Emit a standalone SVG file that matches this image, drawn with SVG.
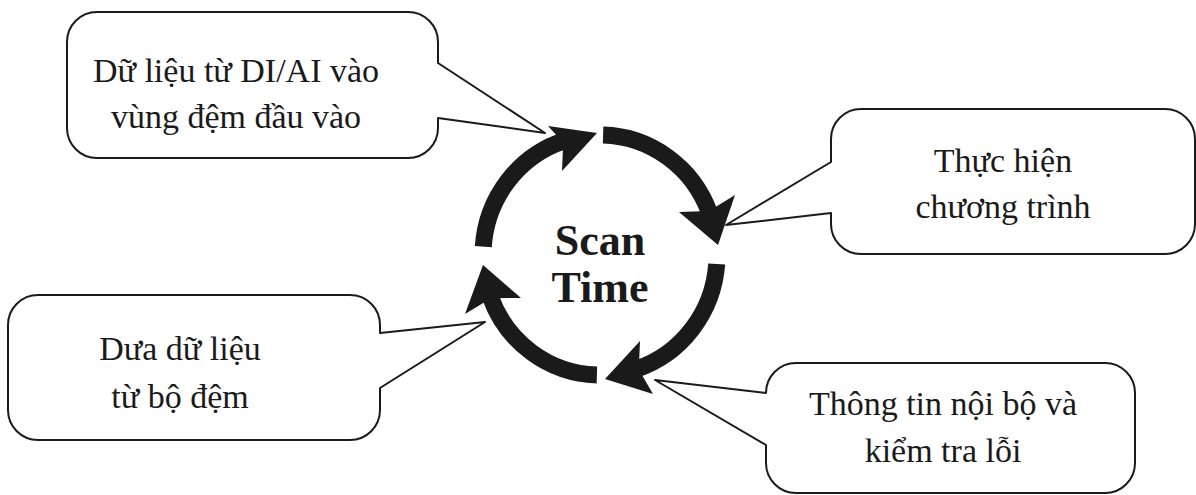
<svg xmlns="http://www.w3.org/2000/svg" width="1196" height="495" viewBox="0 0 1196 495">
  <style>
    .box { fill: #ffffff; stroke: #1a1a1a; stroke-width: 2; stroke-linejoin: round; }
    .lbl { font-family: "Liberation Serif", "Times New Roman", serif; font-size: 34px; fill: #1a1a1a; text-anchor: middle; }
    .arc { fill: none; stroke: #1a1a1a; stroke-width: 17; stroke-linecap: butt; }
    .head { fill: #1a1a1a; stroke: none; }
    .title { font-family: "Liberation Serif", "Times New Roman", serif; font-size: 44px; font-weight: bold; fill: #1a1a1a; text-anchor: middle; }
  </style>
  <rect width="1196" height="495" fill="#ffffff"/>

  <g id="connectors">
    <path class="arc" d="M 603.1 135 A 117 120 0 0 1 709.5 212.8"/>
    <polygon class="head" points="718,245 735,195 709,211 679,212"/>
    <path class="arc" d="M 716.7 264 A 117 120 0 0 1 636.2 369.1"/>
    <polygon class="head" points="605,379 640,341 638.8,369.6 653,394"/>
    <path class="arc" d="M 596.9 375 A 117 120 0 0 1 490.2 296.4"/>
    <polygon class="head" points="483,265 465,314 491.1,298.2 521,298"/>
    <path class="arc" d="M 483.3 246.6 A 117 120 0 0 1 564.6 140.6"/>
    <polygon class="head" points="597,133 562,171 563.2,142.4 548,126"/>
  </g>

  <g id="center">
    <text class="title" x="600" y="255">Scan</text>
    <text class="title" x="600" y="302">Time</text>
  </g>

  <g id="node-input">
    <path class="box" d="M 97 12 H 408 A 30 30 0 0 1 438 42 V 63 L 545 133 L 438 118 V 128 A 30 30 0 0 1 408 158 H 97 A 30 30 0 0 1 67 128 V 42 A 30 30 0 0 1 97 12 Z"/>
    <text class="lbl" x="236" y="82">Dữ liệu từ DI/AI vào</text>
    <text class="lbl" x="236" y="128">vùng đệm đầu vào</text>
  </g>

  <g id="node-execute">
    <path class="box" d="M 861 109 H 1165 A 30 30 0 0 1 1195 139 V 224 A 30 30 0 0 1 1165 254 H 861 A 30 30 0 0 1 831 224 V 213 L 726 225 L 831 162 V 139 A 30 30 0 0 1 861 109 Z"/>
    <text class="lbl" x="1003" y="172">Thực hiện</text>
    <text class="lbl" x="1003" y="218">chương trình</text>
  </g>

  <g id="node-internal">
    <path class="box" d="M 796 363 H 1105 A 30 30 0 0 1 1135 393 V 463 A 30 30 0 0 1 1105 493 H 796 A 30 30 0 0 1 766 463 V 445 L 655 380 L 766 393 A 30 30 0 0 1 796 363 Z"/>
    <text class="lbl" x="943" y="415">Thông tin nội bộ và</text>
    <text class="lbl" x="943" y="462">kiểm tra lỗi</text>
  </g>

  <g id="node-output">
    <path class="box" d="M 38 295 H 350 A 30 30 0 0 1 380 325 V 333 L 485 322 L 380 388 V 410 A 30 30 0 0 1 350 440 H 38 A 30 30 0 0 1 8 410 V 325 A 30 30 0 0 1 38 295 Z"/>
    <text class="lbl" x="180" y="360">Dưa dữ liệu</text>
    <text class="lbl" x="180" y="408">từ bộ đệm</text>
  </g>
</svg>
